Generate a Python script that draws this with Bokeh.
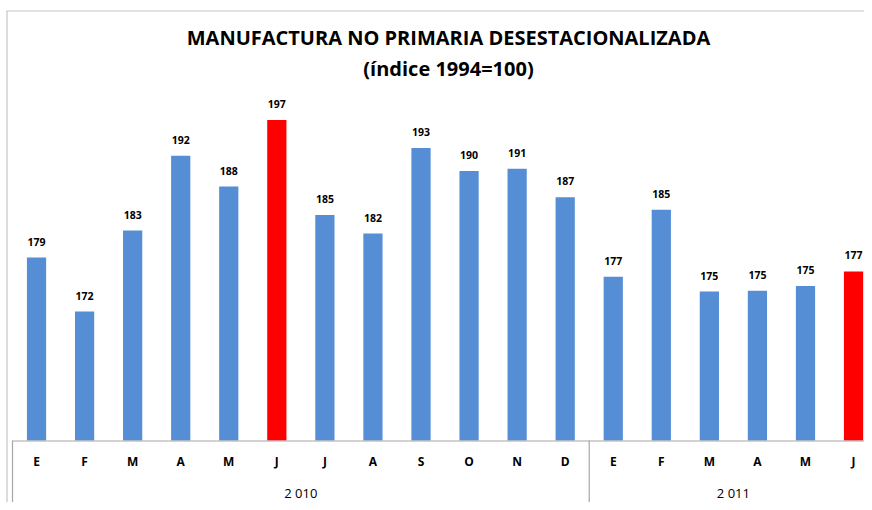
from bokeh.plotting import figure
from bokeh.models import Range1d, ColumnDataSource
from bokeh.core.properties import value
from bokeh.embed import file_html
from bokeh.resources import INLINE

# ---------------- data ----------------
months = ["E", "F", "M", "A", "M", "J", "J", "A", "S", "O", "N", "D",
          "E", "F", "M", "A", "M", "J"]
years = ["2 010", "2 011"]
year_sizes = [12, 6]
values = [179.1, 172.1, 182.6, 192.3, 188.3, 196.9, 184.6, 182.2, 193.3,
          190.3, 190.6, 186.9, 176.6, 185.3, 174.7, 174.8, 175.4, 177.3]
highlight = [5, 17]
title_lines = ["MANUFACTURA NO PRIMARIA DESESTACIONALIZADA", "(índice 1994=100)"]

# ---------------- style / layout ----------------
BLUE = "#558ED5"
RED = "#FF0000"
GRID_GRAY = "#A6A6A6"
BORDER_GRAY = "#C4C4C4"
FONT = value("Open Sans")

W, H = 864, 502
PAGE_X0, PAGE_Y0 = 0, 0   # observed page position of the canvas
PLOT_LEFT = 12          # page x of first category edge
CAT_W = 48.06           # px per category
AXIS_Y = 440            # page y of baseline
BASE = 155.4            # value at baseline
PX_PER_UNIT = 7.72

x_range = Range1d((PAGE_X0 - PLOT_LEFT) / CAT_W, (PAGE_X0 + W - PLOT_LEFT) / CAT_W)
y_range = Range1d(BASE - (PAGE_Y0 + H - AXIS_Y) / PX_PER_UNIT,
                  BASE + (AXIS_Y - PAGE_Y0) / PX_PER_UNIT)

p = figure(width=W, height=H, x_range=x_range, y_range=y_range,
           output_backend="svg", toolbar_location=None, tools="",
           x_axis_type=None, y_axis_type=None, min_border=0)
p.extra_x_ranges = {"px": Range1d(PAGE_X0, PAGE_X0 + W)}
p.extra_y_ranges = {"px": Range1d(PAGE_Y0 + H, PAGE_Y0)}
p.grid.visible = False
p.outline_line_color = None
p.background_fill_color = "white"
p.border_fill_color = "white"

n = len(values)
src = ColumnDataSource(dict(
    x=[i + 0.5 for i in range(n)],
    top=values,
    color=[RED if i in highlight else BLUE for i in range(n)],
    label=[f"{v:.0f}" for v in values],
    month=months,
))

# bars
p.vbar(x="x", top="top", bottom=BASE, width=0.40, fill_color="color",
       line_color=None, source=src)

# data labels
p.text(x="x", y="top", text="label", source=src, text_align="center",
       text_baseline="middle", y_offset=-16, text_font=FONT,
       text_font_style="bold", text_font_size="10.5px", text_color="#000000")

# month labels
p.text(x="x", y=461, y_range_name="px", text="month", source=src,
       text_align="center", text_baseline="middle", text_font=FONT,
       text_font_style="bold", text_font_size="12px", text_color="#000000")

# year labels + separators
edges = [0]
for s in year_sizes:
    edges.append(edges[-1] + s)
year_centers = [(edges[i] + edges[i + 1]) / 2 for i in range(len(years))]
p.text(x=year_centers, y=[492] * len(years), y_range_name="px", text=years,
       text_align="center", text_baseline="middle", text_font=FONT,
       text_font_size="13px", text_color="#000000")
p.segment(x0=edges, x1=edges, y0=[AXIS_Y] * len(edges), y1=[503] * len(edges),
          y_range_name="px", line_color=GRID_GRAY, line_width=1.2)

# category axis line
p.segment(x0=[0], x1=[n], y0=[AXIS_Y + 0.5], y1=[AXIS_Y + 0.5], y_range_name="px",
          line_color=GRID_GRAY, line_width=1.2)

# outer chart border (top and left)
p.segment(x0=[6.5, 6], x1=[6.5, PAGE_X0 + W],
          y0=[10.5, 10.5], y1=[503, 10.5],
          x_range_name="px", y_range_name="px", line_color=BORDER_GRAY, line_width=1.2)

# title
p.text(x=[448, 448], y=[37, 68], x_range_name="px", y_range_name="px",
       text=title_lines, text_align="center", text_baseline="middle",
       text_font=FONT, text_font_style="bold", text_font_size="20px",
       text_color="#000000")

open("out.html", "w").write(file_html(p, INLINE))
